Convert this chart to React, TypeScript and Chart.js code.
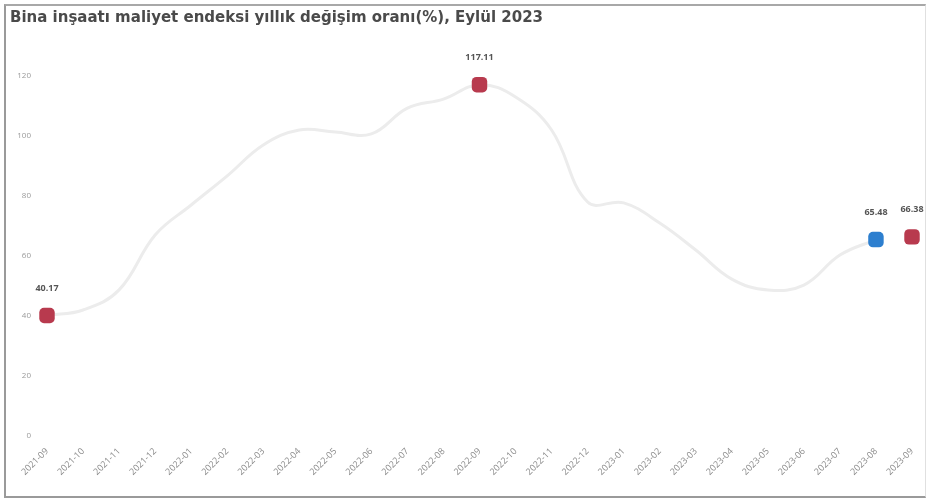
import React, { useEffect, useRef } from "react";
import { Chart, registerables } from "chart.js";

Chart.register(...registerables);

const TITLE = "Bina inşaatı maliyet endeksi yıllık değişim oranı(%), Eylül 2023";

const months = [
  "2021-09", "2021-10", "2021-11", "2021-12", "2022-01", "2022-02", "2022-03",
  "2022-04", "2022-05", "2022-06", "2022-07", "2022-08", "2022-09", "2022-10",
  "2022-11", "2022-12", "2023-01", "2023-02", "2023-03", "2023-04", "2023-05",
  "2023-06", "2023-07", "2023-08", "2023-09",
];

// annual change, line (2021-09 .. 2023-08)
const lineValues: (number | null)[] = [
  40.17, 42.0, 48.7, 67.0, 77.0, 86.7, 97.0, 102.0, 101.3, 100.7, 109.3, 112.3,
  117.11, 113.0, 102.0, 78.0, 77.7, 71.0, 62.0, 52.3, 48.7, 50.3, 60.3, 65.48, null,
];

// highlighted markers
const markerValues: (number | null)[] = [
  40.17, null, null, null, null, null, null, null, null, null, null, null,
  117.11, null, null, null, null, null, null, null, null, null, null, 65.48, 66.38,
];
const markerLabels: (string | null)[] = [
  "40.17", null, null, null, null, null, null, null, null, null, null, null,
  "117.11", null, null, null, null, null, null, null, null, null, null, "65.48", "66.38",
];

const yTicks = [0, 20, 40, 60, 80, 100, 120];

const RED = "#b83a4e";
const BLUE = "#2d7fcf";

export default function App() {
  const ref = useRef<HTMLCanvasElement | null>(null);

  useEffect(() => {
    if (!ref.current) return;
    const markerColors = markerValues.map((_, i) => (i === 23 ? BLUE : RED));

    const labelPlugin = {
      id: "labelsAndTitle",
      afterDraw(chart: any) {
        const ctx = chart.ctx;
        ctx.save();
        ctx.font = "bold 15px 'DejaVu Sans', sans-serif";
        ctx.fillStyle = "#4a4a4a";
        ctx.textAlign = "left";
        ctx.textBaseline = "middle";
        ctx.fillText(TITLE, 4, 12);

        const meta = chart.getDatasetMeta(1);
        ctx.font = "bold 9px 'Open Sans', sans-serif";
        ctx.fillStyle = "#555";
        ctx.textAlign = "center";
        ctx.textBaseline = "middle";
        meta.data.forEach((pt: any, i: number) => {
          const t = markerLabels[i];
          if (t == null || markerValues[i] == null) return;
          ctx.fillText(t, pt.x, pt.y - 27);
        });
        ctx.restore();
      },
    };

    const chart = new Chart(ref.current, {
      type: "line",
      data: {
        labels: months,
        datasets: [
          {
            data: lineValues,
            borderColor: "#ececec",
            borderWidth: 3,
            tension: 0.4,
            pointRadius: 0,
            fill: false,
            spanGaps: false,
            order: 2,
          },
          {
            data: markerValues,
            showLine: false,
            pointStyle: "rectRounded",
            pointRadius: 9,
            pointBackgroundColor: markerColors,
            pointBorderColor: markerColors,
            pointBorderWidth: 0,
            order: 1,
          },
        ],
      },
      options: {
        animation: false,
        responsive: false,
        maintainAspectRatio: false,
        events: [],
        layout: { padding: { top: 70, right: 13, left: 0, bottom: 0 } },
        plugins: {
          legend: { display: false },
          tooltip: { enabled: false },
          title: { display: false },
        },
        scales: {
          x: {
            grid: { display: false },
            border: { display: false },
            ticks: {
              minRotation: 45,
              maxRotation: 45,
              autoSkip: false,
              color: "#8a8a8a",
              font: { size: 9, family: "'Open Sans', sans-serif" },
              padding: 2,
            },
            afterFit(scale: any) {
              scale.height = 60;
            },
          },
          y: {
            min: 0,
            max: 120,
            grid: { display: false },
            border: { display: false },
            afterBuildTicks(scale: any) {
              scale.ticks = yTicks.map((v) => ({ value: v }));
            },
            ticks: {
              color: "#9a9a9a",
              font: { size: 8, family: "'Open Sans', sans-serif" },
              padding: 8,
            },
            afterFit(scale: any) {
              scale.width = 41;
            },
          },
        },
      },
      plugins: [labelPlugin],
    });
    return () => chart.destroy();
  }, []);

  return (
    <div
      style={{
        position: "absolute",
        left: 4,
        top: 4,
        width: 919,
        height: 490,
        borderLeft: "2px solid #9a9a9a",
        borderTop: "2px solid #a8a8a8",
        borderBottom: "2px solid #9a9a9a",
        borderRight: "1px solid #e0e0e0",
        background: "#fff",
      }}
    >
      <canvas ref={ref} width={919} height={490} style={{ display: "block" }} />
    </div>
  );
}
